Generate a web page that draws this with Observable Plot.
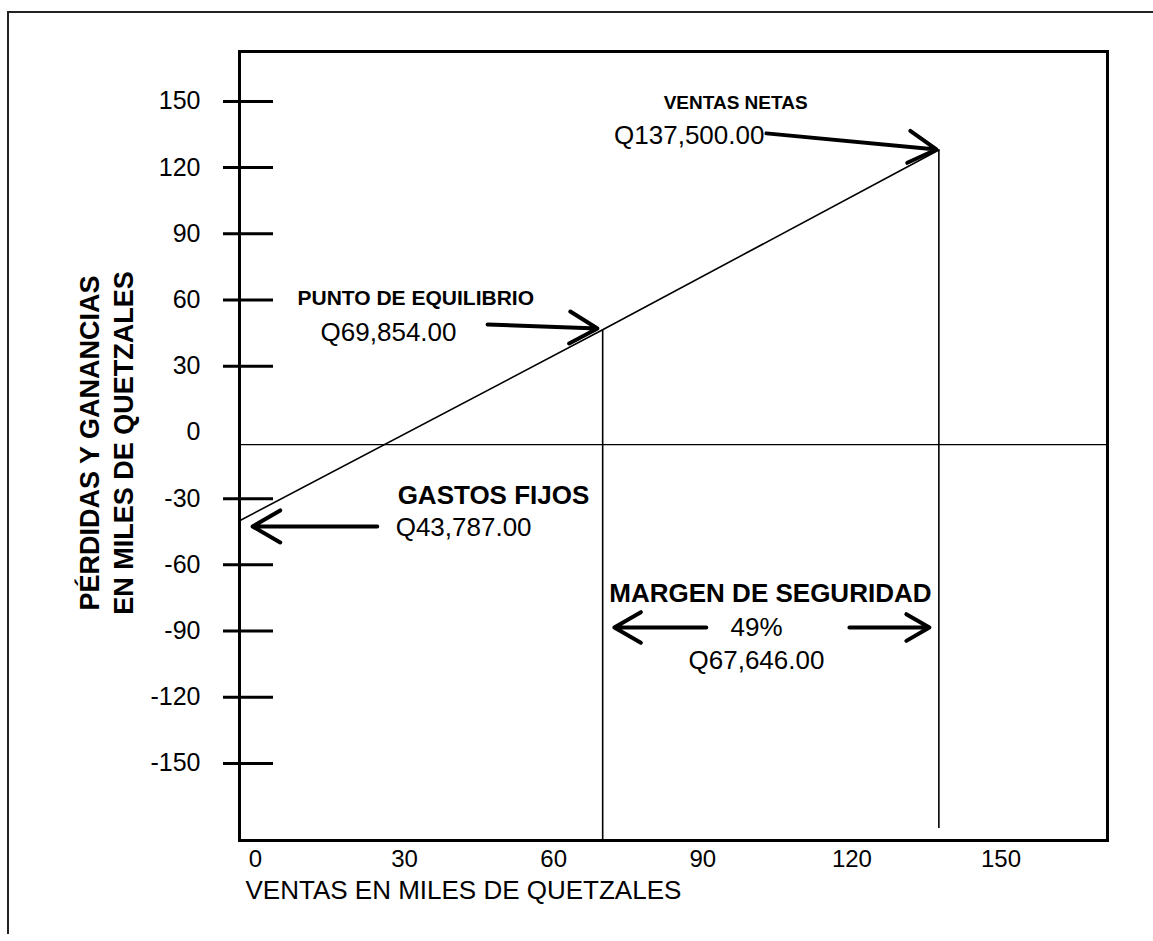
<!DOCTYPE html>
<html><head><meta charset="utf-8">
<script src="https://cdn.jsdelivr.net/npm/d3@7"></script>
<script src="https://cdn.jsdelivr.net/npm/@observablehq/plot@0.6"></script>
<style>
html,body{margin:0;padding:0;background:#fff;overflow:hidden;width:1153px;height:941px;}
#wrap{position:relative;width:1153px;height:941px;overflow:hidden;}
#border{position:absolute;left:7px;top:11px;width:1300px;height:921px;border-left:2px solid #222;border-top:2px solid #222;}
#chart{position:absolute;left:0;top:0;}
svg{font-family:"Liberation Sans",Arial,sans-serif;}
</style></head>
<body><div id="wrap"><div id="border"></div><div id="chart"></div></div>
<script>
// Axis ticks (miles de quetzales)
const xTicks = [0, 30, 60, 90, 120, 150];
const yTicks = [150, 120, 90, 60, 30, 0, -30, -60, -90, -120, -150];

// Profit line: sales vs. result
const sales  = [-3.2, 69.854, 137.5];
const result = [-40, 46.5, 128];

// Reference verticals
const vLineX    = [69.854, 137.5];
const vLineTop  = [46.5, 128];
const vLineBot  = [-184.9, -179.5];

// Horizontal base line
const baseLine = [-5.5];

// Bold annotations
const boldText   = ["PUNTO DE EQUILIBRIO", "GASTOS FIJOS", "VENTAS NETAS", "MARGEN DE SEGURIDAD"];
const boldX      = [8.45, 28.6, 96.6, 103.6];
const boldY      = [60.7, -28.5, 149.5, -72.9];
const boldSize   = [21, 26, 19, 26];
const boldAnchor = ["start", "start", "middle", "middle"];

// Regular annotations
const normText   = ["Q69,854.00", "Q43,787.00", "Q137,500.00", "49%", "Q67,646.00"];
const normX      = [13.1, 28.2, 102.4, 100.8, 100.8];
const normY      = [45.3, -43.0, 134.6, -88.4, -103.3];
const normAnchor = ["start", "start", "end", "middle", "middle"];

// Arrows
const arrX1 = [46.7, 24.5, 102.8, 90.7, 119.5];
const arrY1 = [48.9, -42.6, 135.5, -88.4, -88.4];
const arrX2 = [68.8, -0.6, 137.0, 72.2, 135.6];
const arrY2 = [47.1, -42.6, 128.2, -88.4, -88.4];

const lineData = sales.map((s, i) => ({s, r: result[i]}));
const vData = vLineX.map((x, i) => ({x, y1: vLineTop[i], y2: vLineBot[i]}));
const boldData = boldText.map((t, i) => ({t, x: boldX[i], y: boldY[i], size: boldSize[i], anchor: boldAnchor[i]}));
const normData = normText.map((t, i) => ({t, x: normX[i], y: normY[i], anchor: normAnchor[i]}));
const arrData = arrX1.map((x1, i) => ({x1, y1: arrY1[i], x2: arrX2[i], y2: arrY2[i]}));

const textMarks = [];
for (const a of ["start", "middle", "end"]) {
  const b = boldData.filter(d => d.anchor === a);
  if (b.length) textMarks.push(Plot.text(b, {x: "x", y: "y", text: "t", fontSize: "size", fontWeight: "bold", textAnchor: a, fill: "#000"}));
  const n = normData.filter(d => d.anchor === a);
  if (n.length) textMarks.push(Plot.text(n, {x: "x", y: "y", text: "t", fontSize: 26, textAnchor: a, fill: "#000"}));
}

const chart = Plot.plot({
  width: 1153, height: 941,
  marginLeft: 239, marginRight: 46, marginTop: 51, marginBottom: 101,
  style: {fontFamily: '"Liberation Sans", Arial, sans-serif', fontSize: "24px", color: "#000", background: "transparent"},
  x: {domain: [-3.22, 171.43]},
  y: {domain: [-184.9, 172.6]},
  marks: [
    Plot.axisX({ticks: xTicks, tickSize: 0, tickPadding: 9, fontSize: 24, label: null, tickFormat: d => String(d)}),
    Plot.axisY({ticks: yTicks, tickSize: 0, tickPadding: 39, fontSize: 25, label: null, tickFormat: d => String(d)}),
    Plot.ruleY(yTicks.filter(d => d !== 0), {y: d => d, insetLeft: -16, insetRight: 834, strokeWidth: 3, stroke: "#000"}),
    Plot.ruleY(baseLine, {y: d => d, strokeWidth: 1.3, stroke: "#000"}),
    Plot.line(lineData, {x: "s", y: "r", strokeWidth: 1.6, stroke: "#000"}),
    Plot.ruleX(vData, {x: "x", y1: "y1", y2: "y2", strokeWidth: 1.6, stroke: "#000"}),
    Plot.arrow(arrData, {x1: "x1", y1: "y1", x2: "x2", y2: "y2", strokeWidth: 4, headLength: 12, stroke: "#000"}),
    ...textMarks,
    Plot.text(["VENTAS EN MILES DE QUETZALES"], {frameAnchor: "bottom-left", dx: 6, dy: 58, textAnchor: "start", fontSize: 26, fill: "#000"}),
    Plot.text(["PÉRDIDAS Y GANANCIAS\nEN MILES DE QUETZALES"], {frameAnchor: "left", dx: -134, dy: -3, rotate: -90, fontSize: 27, fontWeight: "bold", lineHeight: 1.26, textAnchor: "middle", fill: "#000"}),
    Plot.frame({strokeWidth: 3, stroke: "#000"})
  ]
});
document.getElementById("chart").appendChild(chart);
</script>
</body></html>
